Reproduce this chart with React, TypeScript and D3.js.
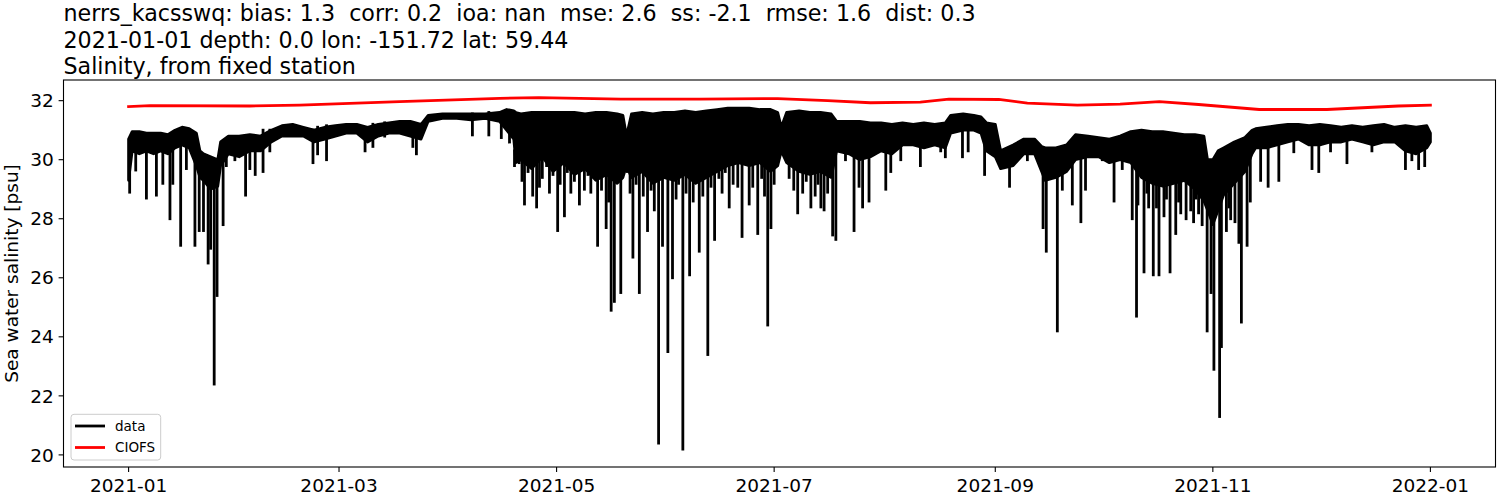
import { area, bisectLeft, curveLinear, line, scaleLinear, scaleTime } from 'd3';

// observed salinity: dense band (upper / lower envelope) plus the downward spikes
const bandDays = [
  0, 1, 3, 5, 7, 9, 11, 13, 15, 17, 19, 20, 21, 23, 25, 25.8, 28, 31, 34, 37, 40,
  43, 46, 49, 52, 55, 58, 61, 64, 67, 70, 73, 76, 79, 82, 84, 88, 92, 96, 100, 104,
  106, 108, 108.6, 110, 113, 116, 119, 122, 125, 128, 131, 134, 137, 138.6, 139.6, 141, 144, 147, 150, 153, 156, 159,
  162, 165, 168, 171, 174, 177, 180, 182, 183, 184.5, 188, 191, 194, 197, 198.5, 202, 205, 208, 211, 214, 217,
  220, 223, 226, 229, 230.5, 234, 237, 239, 240.5, 243, 244.5, 248, 251, 254, 256, 257, 260, 263, 265.5, 269, 272, 275,
  278, 281, 284, 287, 290, 293, 296, 299, 301.5, 302.5, 304, 305.5, 307, 310, 313, 315, 316, 319, 322, 325, 328, 331, 334,
  337, 340, 343, 346, 349, 352, 355, 358, 361, 364, 365,
];
const bandHigh = [
  30.7, 30.95, 30.95, 30.9, 30.9, 30.9, 30.85, 31.0, 31.1, 31.05, 30.9, 30.3, 30.2, 30.1, 30.0, 30.6, 30.8, 30.8, 30.85, 30.8, 31.0,
  31.15, 31.2, 31.1, 31.0, 31.1, 31.15, 31.2, 31.2, 31.1, 31.2, 31.25, 31.3, 31.3, 31.2, 31.5, 31.55, 31.55, 31.55, 31.55, 31.6,
  31.7, 31.65, 31.6, 31.55, 31.6, 31.6, 31.6, 31.6, 31.6, 31.55, 31.6, 31.6, 31.55, 31.5, 30.8, 31.55, 31.6, 31.55, 31.6, 31.6, 31.65, 31.6,
  31.65, 31.7, 31.75, 31.75, 31.75, 31.7, 31.7, 31.6, 31.1, 31.6, 31.65, 31.6, 31.6, 31.55, 31.3, 31.3, 31.3, 31.25, 31.25, 31.2, 31.25,
  31.2, 31.25, 31.2, 31.25, 31.5, 31.55, 31.5, 31.45, 31.25, 31.2, 30.3, 30.5, 30.7, 30.7, 30.45, 30.4, 30.4, 30.5, 30.85, 30.8, 30.75, 30.7,
  30.8, 30.95, 31.0, 30.95, 30.95, 30.9, 30.85, 30.85, 30.8, 30.0, 30.0, 30.3, 30.4, 30.6, 30.75, 31.0, 31.05, 31.1, 31.15, 31.2, 31.2, 31.15, 31.2,
  31.15, 31.1, 31.15, 31.1, 31.15, 31.2, 31.1, 31.15, 31.1, 31.15, 30.9,
];
const bandLow = [
  29.3, 30.3, 30.2, 30.3, 30.2, 30.3, 30.2, 30.4, 30.5, 30.4, 29.8, 29.4, 29.3, 29.0, 29.1, 29.8, 30.2, 30.1, 30.3, 30.3, 30.6,
  30.8, 30.8, 30.8, 30.6, 30.7, 30.8, 30.9, 30.9, 30.6, 30.8, 30.9, 30.9, 30.8, 30.7, 31.3, 31.4, 31.4, 31.35, 31.4, 31.3,
  31.0, 30.7, 29.9, 30.0, 29.7, 30.1, 29.6, 29.9, 29.5, 29.7, 29.3, 29.5, 29.2, 29.4, 29.8, 29.4, 29.6, 29.2, 29.4, 29.3, 29.5, 29.2,
  29.4, 29.6, 29.8, 29.9, 29.8, 29.9, 29.6, 29.8, 30.3, 29.9, 29.6, 29.5, 29.6, 29.4, 30.3, 30.2, 30.0, 30.1, 30.3, 30.2, 30.5,
  30.5, 30.4, 30.5, 30.4, 30.9, 31.0, 31.0, 30.9, 30.3, 30.1, 29.7, 29.8, 30.2, 30.2, 29.6, 29.3, 29.4, 29.6, 30.0, 30.1, 30.1, 29.9,
  30.0, 29.9, 29.4, 29.2, 29.1, 29.2, 29.3, 29.0, 28.6, 28.3, 27.8, 28.3, 28.8, 29.2, 29.6, 30.2, 30.4, 30.4, 30.5, 30.6, 30.7, 30.5, 30.5,
  30.6, 30.6, 30.7, 30.6, 30.5, 30.6, 30.6, 30.3, 30.2, 30.4, 30.6,
];

const spikeDays = [
  0.3, 2, 5, 7.8, 9.6, 11.6, 12.4, 14.6, 16.2, 18.6, 19.8, 21, 22.3, 23, 24, 24.8, 26.5, 27.4, 29.8, 32.8,
  34, 35.5, 37.7, 39.6, 51.7, 53, 55.5, 66.3, 68.5, 71.8, 79.7, 80.7, 96.4, 101, 104.5, 106.8, 108.2, 111, 113.3, 114.4,
  116, 120.3, 122.2, 124, 126.4, 127.8, 131.5, 133.9, 135.3, 136.2, 138, 141.4, 143.2, 145.5, 148.6, 149.7, 151.2, 152.5, 155.4, 157.3,
  160, 162.4, 164.3, 168.4, 170.8, 172, 174, 176.4, 179.2, 180.1, 185.2, 187.6, 191.3, 194.1, 195, 197.4, 198.3, 201, 203.4, 204.8,
  205.8, 207.6, 212.3, 213.7, 216.5, 222, 223.5, 227.7, 229, 233.8, 235.4, 240, 242.2, 247, 252, 256.4, 257.3, 260.4, 261.8, 264.6,
  267, 268.3, 273, 276.3, 278.6, 281.4, 282.6, 284.7, 286, 287.3, 288.9, 290.3, 292, 293.6, 295, 297.8, 300, 302.4, 303.5, 304.3,
  305.9, 306.4, 309, 311.3, 312, 313.6, 317.4, 319.5, 322.5, 326.7, 331.8, 333.7, 337, 341.6, 348.6, 358, 359.8, 361.7, 363.4,
  // shorter strokes inside the busy stretches
  109.5, 110.3, 112, 115.2, 117.2, 118, 119, 121, 123, 125, 126, 128.8, 129.6, 130.5, 132.6, 134.6, 137, 139.8, 140.6, 142.3,
  144.3, 146.5, 147.4, 150.4, 153.5, 154.2, 156.3, 158.3, 159, 161, 163.3, 165.5, 166.4, 167.3, 169.5, 175, 177.5, 178.3, 181,
  186.5, 189, 190, 192.5, 193.3, 196, 283, 285.5, 288.2, 291, 294.4, 296.5, 298.6, 299.3, 301, 307.8, 308.5, 310.2, 314.5,
];
const spikeValues = [
  28.9, 29.65, 28.7, 28.8, 29.2, 28.0, 29.2, 27.1, 29.7, 27.1, 27.6, 27.6, 26.5, 27.0, 22.4, 25.4, 27.8, 29.8, 30.0, 28.8,
  29.7, 29.5, 29.6, 30.3, 29.9, 30.2, 30.0, 30.3, 30.45, 30.8, 30.45, 30.2, 30.84, 30.84, 30.75, 30.6, 29.8, 28.5, 28.8, 28.4,
  29.4, 27.6, 28.1, 28.9, 28.5, 29.0, 27.1, 27.7, 24.9, 25.2, 25.5, 26.7, 25.5, 27.6, 20.4, 27.1, 23.5, 26.0, 20.2, 26.1,
  26.9, 23.4, 27.3, 28.4, 29.1, 27.4, 28.5, 27.5, 24.4, 27.7, 29.4, 28.2, 28.4, 28.4, 28.3, 27.45, 27.3, 30.0, 27.6, 29.1,
  28.4, 28.6, 29.0, 29.6, 30.0, 29.8, 30.5, 30.3, 30.1, 30.1, 30.3, 29.5, 30.2, 29.1, 30.0, 27.7, 26.9, 24.2, 29.0, 28.5,
  27.9, 29.0, 30.0, 28.6, 29.7, 28.0, 24.7, 26.2, 28.4, 26.1, 26.1, 28.1, 26.2, 27.5, 28.2, 28.3, 28.2, 24.2, 25.5, 22.9,
  21.3, 23.67, 28.0, 27.2, 24.5, 27.1, 29.3, 29.1, 29.3, 30.27, 29.7, 29.6, 30.3, 29.9, 30.3, 29.7, 30.0, 29.7, 29.8,
  29.9, 29.3, 29.6, 29.1, 29.8, 28.9, 29.5, 29.2, 29.6, 29.3, 29.8, 29.5, 28.9, 29.4, 29.0, 28.6, 29.3, 29.6, 28.9, 29.2,
  28.8, 29.0, 28.3, 29.4, 28.7, 29.2, 28.9, 28.6, 29.3, 28.8, 29.1, 29.4, 28.9, 29.6, 29.2, 29.1, 29.4, 28.8, 29.2,
  29.0, 28.9, 29.3, 28.8, 29.2, 28.9, 28.5, 28.9, 28.4, 28.7, 28.6, 28.0, 27.9, 28.7, 27.8, 27.6, 28.4, 27.9, 28.6,
];

// CIOFS model salinity
const modelDays = [0, 6, 34, 48, 76, 104, 115, 138, 160, 182, 196, 208, 222, 230, 244, 252, 266, 278, 289, 300, 317, 336, 356, 365];
const modelValues = [31.8, 31.83, 31.82, 31.85, 31.97, 32.08, 32.1, 32.05, 32.05, 32.07, 32.0, 31.93, 31.95, 32.05, 32.04, 31.92, 31.85, 31.88, 31.97, 31.87, 31.7, 31.7, 31.82, 31.85];

const yTicks = [20, 22, 24, 26, 28, 30, 32];
const xTickLabels = ['2021-01', '2021-03', '2021-05', '2021-07', '2021-09', '2021-11', '2022-01'];

const titleLines = [
  'nerrs_kacsswq: bias: 1.3  corr: 0.2  ioa: nan  mse: 2.6  ss: -2.1  rmse: 1.6  dist: 0.3',
  '2021-01-01 depth: 0.0 lon: -151.72 lat: 59.44',
  'Salinity, from fixed station',
];

const width = 1500;
const height = 500;
const plot = { left: 63.5, right: 1495.5, top: 80, bottom: 467 };
const font = '"DejaVu Sans", sans-serif';
const start = Date.UTC(2021, 0, 1);
const dayMs = 864e5;
const toDate = (day: number) => new Date(start + day * dayMs);

export default function App() {
  const xScale = scaleTime()
    .domain([toDate(-18.25), toDate(383.25)])
    .range([plot.left, plot.right]);
  const yScale = scaleLinear().domain([19.59, 32.7]).range([plot.bottom, plot.top]);

  const bandIdx = bandDays.map((_, i) => i);
  const bandPath = area<number>()
    .x(i => xScale(toDate(bandDays[i])))
    .y0(i => yScale(bandLow[i]))
    .y1(i => yScale(bandHigh[i]))
    .curve(curveLinear)(bandIdx);

  const spikeLine = line<[number, number]>()
    .x(d => xScale(toDate(d[0])))
    .y(d => yScale(d[1]));

  const spikePaths = spikeDays.map((day, i) => {
    const j = Math.min(bandDays.length - 1, bisectLeft(bandDays, day));
    const top = Math.min(bandHigh[j], bandLow[j] + 0.4);
    return spikeLine([[day, top], [day, spikeValues[i]]]);
  });

  const modelPath = line<number>()
    .x(i => xScale(toDate(modelDays[i])))
    .y(i => yScale(modelValues[i]))(modelDays.map((_, i) => i));

  const xTicks = xTickLabels.map(label => {
    const [y, m] = label.split('-').map(Number);
    return { label, x: xScale(new Date(Date.UTC(y, m - 1, 1))) };
  });

  return (
    <div style={{ position: 'absolute', left: 0, top: 0, background: '#fff' }}>
      <svg width={width} height={height} viewBox={`0 0 ${width} ${height}`} style={{ display: 'block', fontFamily: font }}>
        <rect width={width} height={height} fill="#fff" />

        {titleLines.map((t, i) => (
          <text key={i} x={plot.left} y={21 + i * 26.5} fontSize={22.2} fill="#000" style={{ whiteSpace: 'pre' }}>
            {t}
          </text>
        ))}

        {bandPath && <path d={bandPath} fill="#000" stroke="#000" strokeWidth={2.8} strokeLinejoin="round" />}
        {spikePaths.map((d, i) => d && <path key={i} d={d} fill="none" stroke="#000" strokeWidth={2.8} strokeLinecap="square" />)}
        {modelPath && <path d={modelPath} fill="none" stroke="#ff0000" strokeWidth={2.8} strokeLinecap="square" />}

        <rect x={plot.left} y={plot.top} width={plot.right - plot.left} height={plot.bottom - plot.top} fill="none" stroke="#000" strokeWidth={1.1} />

        {yTicks.map(t => (
          <g key={t}>
            <line x1={plot.left - 4.9} x2={plot.left} y1={yScale(t)} y2={yScale(t)} stroke="#000" strokeWidth={1.1} />
            <text x={plot.left - 9.8} y={yScale(t)} dy="0.36em" textAnchor="end" fontSize={18.5} fill="#000">{t}</text>
          </g>
        ))}

        {xTicks.map(t => (
          <g key={t.label}>
            <line x1={t.x} x2={t.x} y1={plot.bottom} y2={plot.bottom + 4.9} stroke="#000" strokeWidth={1.1} />
            <text x={t.x} y={491.5} textAnchor="middle" fontSize={18.5} fill="#000">{t.label}</text>
          </g>
        ))}

        <text transform={`translate(17.5, ${(plot.top + plot.bottom) / 2}) rotate(-90)`} textAnchor="middle" fontSize={18.5} fill="#000">
          Sea water salinity [psu]
        </text>

        <g>
          <rect x={71} y={414.3} width={89.7} height={45.7} rx={3} fill="#fff" fillOpacity={0.8} stroke="#cccccc" strokeWidth={1} />
          <line x1={75} x2={105} y1={426} y2={426} stroke="#000" strokeWidth={2.8} />
          <text x={115} y={426} dy="0.36em" fontSize={13.5} fill="#000">data</text>
          <line x1={75} x2={105} y1={447.5} y2={447.5} stroke="#ff0000" strokeWidth={2.8} />
          <text x={115} y={447.5} dy="0.36em" fontSize={13.5} fill="#000">CIOFS</text>
        </g>
      </svg>
    </div>
  );
}
